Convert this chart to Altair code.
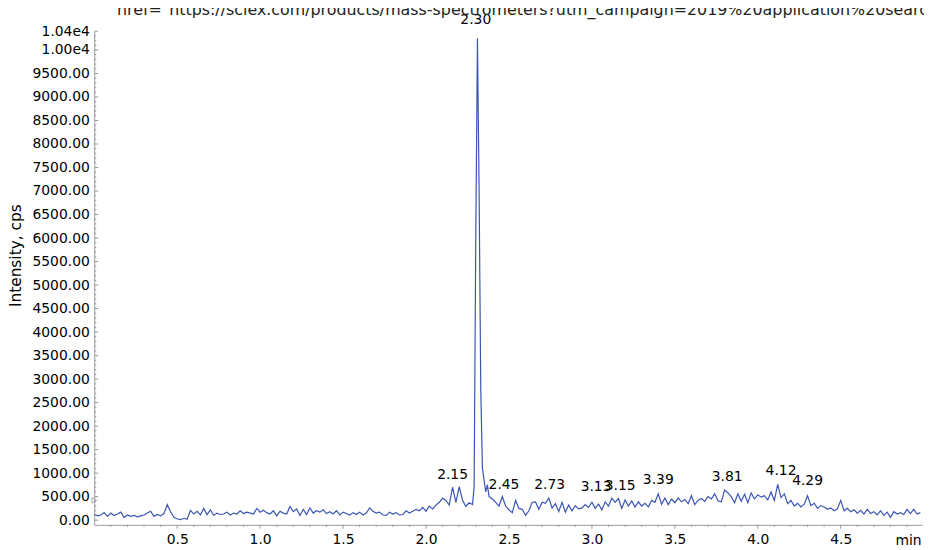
import altair as alt
import pandas as pd

# ---- trace data (retention time in min, intensity in cps) ----
times = [
    0.00, 0.02, 0.04, 0.06, 0.08, 0.10, 0.12, 0.14, 0.16, 0.18,
    0.20, 0.22, 0.24, 0.26, 0.28, 0.30, 0.32, 0.34, 0.36, 0.38,
    0.40, 0.42, 0.44, 0.46, 0.48, 0.50, 0.52, 0.54, 0.56, 0.58,
    0.60, 0.62, 0.64, 0.66, 0.68, 0.70, 0.72, 0.74, 0.76, 0.78,
    0.80, 0.82, 0.84, 0.86, 0.88, 0.90, 0.92, 0.94, 0.96, 0.98,
    1.00, 1.02, 1.04, 1.06, 1.08, 1.10, 1.12, 1.14, 1.16, 1.18,
    1.20, 1.22, 1.24, 1.26, 1.28, 1.30, 1.32, 1.34, 1.36, 1.38,
    1.40, 1.42, 1.44, 1.46, 1.48, 1.50, 1.52, 1.54, 1.56, 1.58,
    1.60, 1.62, 1.64, 1.66, 1.68, 1.70, 1.72, 1.74, 1.76, 1.78,
    1.80, 1.82, 1.84, 1.86, 1.88, 1.90, 1.92, 1.94, 1.96, 1.98,
    2.00, 2.02, 2.04, 2.06, 2.08, 2.10, 2.12, 2.14, 2.16, 2.18,
    2.20, 2.22, 2.24, 2.26, 2.28, 2.29, 2.30, 2.31, 2.32, 2.33,
    2.34, 2.36, 2.37, 2.38, 2.40, 2.42, 2.44, 2.46, 2.48, 2.50,
    2.52, 2.54, 2.56, 2.58, 2.60, 2.62, 2.64, 2.66, 2.68, 2.70,
    2.72, 2.74, 2.76, 2.78, 2.80, 2.82, 2.84, 2.86, 2.88, 2.90,
    2.92, 2.94, 2.96, 2.98, 3.00, 3.02, 3.04, 3.06, 3.08, 3.10,
    3.12, 3.14, 3.16, 3.18, 3.20, 3.22, 3.24, 3.26, 3.28, 3.30,
    3.32, 3.34, 3.36, 3.38, 3.40, 3.42, 3.44, 3.46, 3.48, 3.50,
    3.52, 3.54, 3.56, 3.58, 3.60, 3.62, 3.64, 3.66, 3.68, 3.70,
    3.72, 3.74, 3.76, 3.78, 3.80, 3.82, 3.84, 3.86, 3.88, 3.90,
    3.92, 3.94, 3.96, 3.98, 4.00, 4.02, 4.04, 4.06, 4.08, 4.10,
    4.12, 4.14, 4.16, 4.18, 4.20, 4.22, 4.24, 4.26, 4.28, 4.30,
    4.32, 4.34, 4.36, 4.38, 4.40, 4.42, 4.44, 4.46, 4.48, 4.50,
    4.52, 4.54, 4.56, 4.58, 4.60, 4.62, 4.64, 4.66, 4.68, 4.70,
    4.72, 4.74, 4.76, 4.78, 4.80, 4.82, 4.84, 4.86, 4.88, 4.90,
    4.92, 4.94, 4.96, 4.98,
]
intensity = [
    120, 90, 110, 160, 80, 150, 100, 130, 170, 60,
    110, 80, 100, 70, 90, 110, 150, 190, 80, 120,
    90, 140, 330, 180, 60, 30, 10, 40, 20, 210,
    130, 190, 110, 250, 120, 220, 100, 150, 120, 130,
    170, 110, 150, 130, 200, 140, 170, 150, 130, 250,
    170, 210, 160, 130, 200, 90, 190, 150, 130, 290,
    180, 240, 100, 230, 120, 260, 150, 200, 170, 220,
    140, 180, 130, 200, 110, 170, 140, 110, 160, 120,
    170, 110, 150, 260, 190, 150, 170, 110, 100, 170,
    130, 160, 110, 120, 200, 150, 190, 230, 200, 270,
    190, 300, 240, 320, 380, 470, 420, 320, 700, 380,
    710, 430, 290, 370, 330, 700, 6000, 10250, 7000, 2800,
    1100, 600, 750, 500, 450, 380, 300, 500, 300, 220,
    160, 420, 250, 230, 100, 200, 380, 390, 230, 380,
    360, 470, 260, 350, 180, 380, 170, 320, 200, 310,
    240, 260, 330, 270, 380, 250, 340, 220, 390, 300,
    470, 380, 460, 250, 430, 300, 410, 280, 390, 300,
    360, 280, 420, 380, 560, 340, 470, 330, 450, 370,
    470, 390, 440, 350, 520, 330, 420, 460, 400, 500,
    450, 560, 410, 390, 640, 580, 500, 370, 560, 400,
    550, 370, 580, 450, 540, 490, 520, 430, 600, 420,
    760, 480, 560, 350, 420, 300, 360, 280, 340, 520,
    310, 360, 250, 310, 280, 230, 260, 200, 240, 420,
    200, 250, 180, 220, 150, 210, 130, 230, 140, 180,
    110, 200, 100, 170, 60, 180, 130, 160, 120, 230,
    140, 230, 130, 160,
]

# ---- peak annotations ----
peak_labels = ["2.15", "2.30", "2.45", "2.73", "3.13", "3.15", "3.39", "3.81", "4.12", "4.29"]
peak_label_t = [2.16, 2.30, 2.47, 2.745, 3.025, 3.17, 3.40, 3.815, 4.14, 4.30]
peak_label_v = [950, 10640, 740, 740, 700, 720, 845, 910, 1035, 825]

# ---- axis ticks ----
y_label_values = [0, 500, 1000, 1500, 2000, 2500, 3000, 3500, 4000, 4500, 5000,
                  5500, 6000, 6500, 7000, 7500, 8000, 8500, 9000, 9500, 10000, 10400]
y_minor_values = list(range(0, 10401, 100))
x_label_values = [0.5, 1.0, 1.5, 2.0, 2.5, 3.0, 3.5, 4.0, 4.5]
x_minor_values = [round(i / 10, 1) for i in range(1, 50)]

stray_text = 'href="https://sciex.com/products/mass-spectrometers?utm_campaign=2019%20application%20search%'

FONT = "DejaVu Sans"
W, H = 835, 498
LINE_COLOR = "#3b56b2"
AXIS_COLOR = "#9a9a9a"

xs = alt.Scale(domain=[0, 4.99], nice=False, zero=False)
ys = alt.Scale(domain=[-100, 10400], nice=False, zero=False)

x_axis = alt.Axis(
    values=x_label_values, labelExpr="format(datum.value, '.1f')",
    ticks=False, tickSize=0, grid=False, domainColor=AXIS_COLOR,
    labelFont=FONT, labelFontSize=14, labelColor="#000", labelPadding=8,
    title="min", titleFont=FONT, titleFontSize=14, titleFontWeight="normal",
    titleColor="#000", titleX=834, titleY=16, titleAlign="right",
    titleBaseline="middle")
y_axis = alt.Axis(
    values=y_label_values,
    labelExpr="datum.value >= 10000 ? format(datum.value / 10000, '.2f') + 'e4' : format(datum.value, '.2f')",
    ticks=False, tickSize=0, grid=False, domainColor=AXIS_COLOR,
    labelFont=FONT, labelFontSize=14, labelColor="#000", labelPadding=5,
    title="Intensity, cps", titleFont=FONT, titleFontSize=15.5, titleFontWeight="normal",
    titleColor="#000", titleAngle=-90, titleX=-79, titleY=226,
    titleAlign="center", titleBaseline="middle")


def X(field="t"):
    return alt.X(f"{field}:Q", scale=xs, axis=x_axis, title="min")


def Y(field="v"):
    return alt.Y(f"{field}:Q", scale=ys, axis=y_axis, title="Intensity, cps")


trace = pd.DataFrame({"t": times, "v": intensity})
line = alt.Chart(trace).mark_line(color=LINE_COLOR, strokeWidth=1.2).encode(x=X(), y=Y())

ytick_df = pd.DataFrame({"v": y_minor_values})
ytick_df["major"] = ytick_df["v"].isin(y_label_values)
y_minor = alt.Chart(ytick_df).transform_filter("!datum.major").mark_rule(
    color=AXIS_COLOR, strokeWidth=1).encode(y=Y(), x=alt.value(0), x2=alt.value(2))
y_major = alt.Chart(ytick_df).transform_filter("datum.major").mark_rule(
    color=AXIS_COLOR, strokeWidth=1).encode(y=Y(), x=alt.value(0), x2=alt.value(4))

xtick_df = pd.DataFrame({"t": x_minor_values})
xtick_df["major"] = xtick_df["t"].isin(x_label_values)
x_minor = alt.Chart(xtick_df).transform_filter("!datum.major").mark_rule(
    color=AXIS_COLOR, strokeWidth=1).encode(x=X(), y=alt.value(H), y2=alt.value(H + 2))
x_major = alt.Chart(xtick_df).transform_filter("datum.major").mark_rule(
    color=AXIS_COLOR, strokeWidth=1).encode(x=X(), y=alt.value(H), y2=alt.value(H + 4))

labels_df = pd.DataFrame({"label": peak_labels, "t": peak_label_t, "v": peak_label_v})
labels = alt.Chart(labels_df).mark_text(
    font=FONT, fontSize=14, color="#000", align="center", baseline="middle").encode(
    x=X(), y=Y(), text="label:N")

marker_df = pd.DataFrame({"t": [0.0], "v": [420]})
marker = alt.Chart(marker_df).mark_point(
    shape="triangle-right", size=30, filled=False, color="#888", strokeWidth=1).encode(
    x=X(), y=Y())

stray = alt.Chart(pd.DataFrame({"s": [stray_text]})).mark_text(
    font=FONT, fontSize=16, color="#222", align="left", baseline="alphabetic").encode(
    x=alt.value(23), y=alt.value(-16), text="s:N")

chart = alt.layer(line, y_minor, y_major, x_minor, x_major, labels, marker, stray).properties(
    width=W, height=H,
    padding={"left": 87, "top": 21, "right": 2, "bottom": 23},
    autosize=alt.AutoSizeParams(type="none"),
).configure_view(stroke=None)

chart.save("out.html", embed_options={"renderer": "svg", "actions": False})
